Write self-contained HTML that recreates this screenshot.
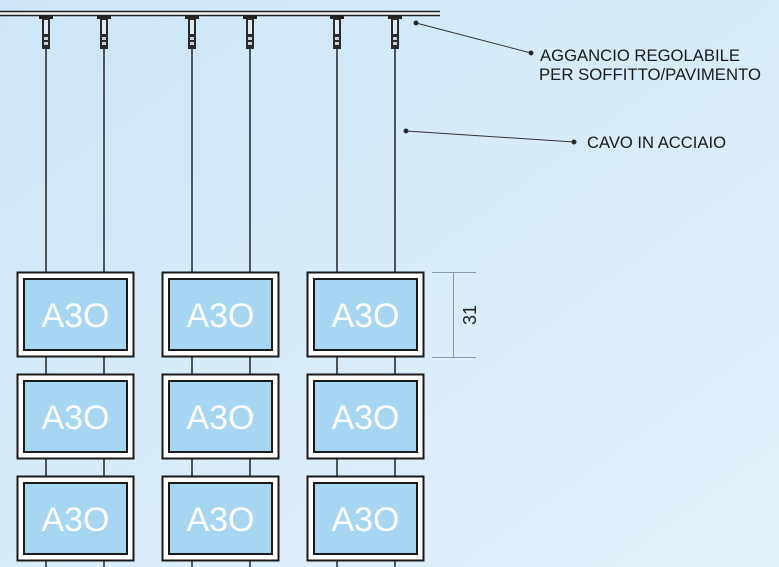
<!DOCTYPE html>
<html><head><meta charset="utf-8"><style>
html,body{margin:0;padding:0;width:779px;height:567px;overflow:hidden}
</style></head><body>
<svg width="779" height="567" viewBox="0 0 779 567" xmlns="http://www.w3.org/2000/svg" font-family="Liberation Sans, sans-serif">
<defs>
<linearGradient id="bg" x1="0" y1="0" x2="1" y2="1">
<stop offset="0" stop-color="#cde5f6"/><stop offset="1" stop-color="#e4f2fb"/>
</linearGradient>
<g id="hook">
<rect x="-7" y="16" width="14" height="3" fill="#222"/>
<rect x="-4" y="18" width="8" height="31" fill="#2a2a2a"/>
<rect x="-2" y="20" width="4" height="14" fill="#dfe9ef"/>
<rect x="-2" y="37" width="4" height="3" fill="#c8d2d8"/>
<rect x="-2" y="42" width="4" height="3" fill="#c8d2d8"/>
</g>
<g id="fr">
<rect x="0.5" y="0.5" width="116" height="84" fill="#fff" stroke="#1a1a1a" stroke-width="2"/>
<rect x="7" y="7" width="103" height="71" fill="#a6d6f2" stroke="#1a1a1a" stroke-width="2"/>
<text x="58.5" y="55" text-anchor="middle" font-size="34" fill="#fff">A3O</text>
</g>
</defs>
<rect width="779" height="567" fill="url(#bg)"/>
<rect x="0" y="11" width="440" height="5" fill="#f3f6f8"/>
<line x1="0" y1="11.5" x2="440" y2="11.5" stroke="#222" stroke-width="1.5"/>
<line x1="0" y1="15.5" x2="440" y2="15.5" stroke="#222" stroke-width="1.5"/>
<g stroke="#222" stroke-width="1.5">
<line x1="46" y1="48" x2="46" y2="567"/><line x1="104" y1="48" x2="104" y2="567"/>
<line x1="192" y1="48" x2="192" y2="567"/><line x1="250" y1="48" x2="250" y2="567"/>
<line x1="337" y1="48" x2="337" y2="567"/><line x1="395" y1="48" x2="395" y2="567"/>
</g>
<use href="#hook" x="46"/><use href="#hook" x="104"/><use href="#hook" x="192"/>
<use href="#hook" x="250"/><use href="#hook" x="337"/><use href="#hook" x="395"/>
<use href="#fr" x="17" y="272"/><use href="#fr" x="162" y="272"/><use href="#fr" x="307" y="272"/>
<use href="#fr" x="17" y="374"/><use href="#fr" x="162" y="374"/><use href="#fr" x="307" y="374"/>
<use href="#fr" x="17" y="476"/><use href="#fr" x="162" y="476"/><use href="#fr" x="307" y="476"/>
<g stroke="#8a9aa6" stroke-width="1">
<line x1="432" y1="272.5" x2="476" y2="272.5"/>
<line x1="432" y1="357.5" x2="476" y2="357.5"/>
<line x1="453.5" y1="272" x2="453.5" y2="357"/>
</g>
<text transform="translate(476,315) rotate(-90)" text-anchor="middle" font-size="18" fill="#222">31</text>
<g stroke="#333" stroke-width="1" fill="#222">
<line x1="416" y1="23" x2="531" y2="53"/><circle cx="416" cy="23" r="2"/><circle cx="531" cy="53" r="2"/>
<line x1="406" y1="131" x2="574" y2="142"/><circle cx="406" cy="131" r="2"/><circle cx="574" cy="142" r="2"/>
</g>
<g font-size="16.6" fill="#1a1a1a">
<text x="540" y="61" textLength="200" lengthAdjust="spacingAndGlyphs">AGGANCIO REGOLABILE</text>
<text x="539" y="80" textLength="222" lengthAdjust="spacingAndGlyphs">PER SOFFITTO/PAVIMENTO</text>
<text x="587" y="148" textLength="139" lengthAdjust="spacingAndGlyphs">CAVO IN ACCIAIO</text>
</g>
</svg>
</body></html>
